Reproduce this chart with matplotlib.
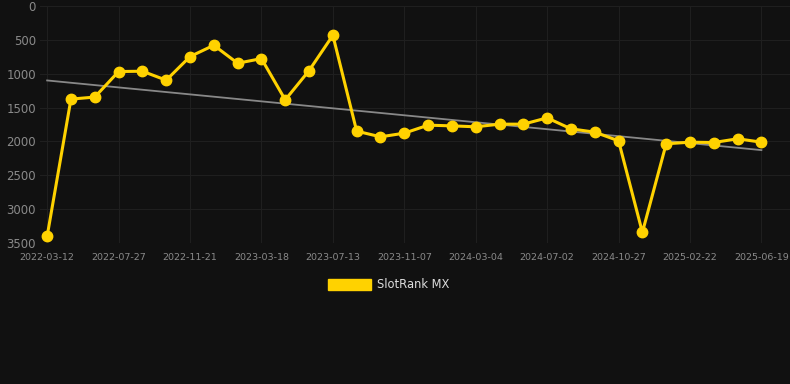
import numpy as np
import matplotlib
matplotlib.use("Agg")
import matplotlib.pyplot as plt
from matplotlib.patches import Patch

# ranks, one point per step
ranks = [3400, 1375, 1345, 968, 963, 1096, 747, 580, 845, 777,
         1386, 954, 433, 1848, 1932, 1878, 1760, 1770, 1784, 1745,
         1745, 1652, 1814, 1863, 1991, 3343, 2035, 2011, 2016, 1961,
         2011]
tick_labels = ["2022-03-12", "2022-07-27", "2022-11-21", "2023-03-18",
               "2023-07-13", "2023-11-07", "2024-03-04", "2024-07-02",
               "2024-10-27", "2025-02-22", "2025-06-19"]
y_ticks = [0, 500, 1000, 1500, 2000, 2500, 3000, 3500]

bg = "#111111"
gold = "#ffd200"

x = np.arange(len(ranks))
slope, icpt = np.polyfit(x, ranks, 1)

fig = plt.figure(figsize=(7.9, 3.84), dpi=100, facecolor=bg)
ax = fig.add_axes([40 / 790, 1 - 243 / 384, 750 / 790, 237 / 384])
ax.set_facecolor(bg)

ax.plot(x, slope * x + icpt, color="#888888", lw=1.3, zorder=2)
ax.plot(x, ranks, color=gold, lw=2.2, marker="o", ms=7.5, zorder=3)

ax.set_ylim(3500, 0)
ax.set_xlim(-0.3, 31.2)
ax.set_yticks(y_ticks)
ax.set_xticks(x[::3])
ax.set_xticklabels(tick_labels)
ax.grid(True, color="#1f1f1f", lw=0.8)
ax.set_axisbelow(True)
for s in ax.spines.values():
    s.set_visible(False)
ax.tick_params(axis="y", colors="#8a8a8a", labelsize=8.5, length=0, pad=3)
ax.tick_params(axis="x", colors="#8a8a8a", labelsize=6.8, length=0, pad=7)

fig.legend(handles=[Patch(facecolor=gold, edgecolor=gold, label="SlotRank MX")],
           loc="center", bbox_to_anchor=(0.492, 0.258), frameon=False,
           fontsize=8.3, labelcolor="#dddddd", handlelength=3.7,
           handleheight=1.0, handletextpad=0.5)

fig.savefig("out.png", dpi=100, facecolor=bg)
